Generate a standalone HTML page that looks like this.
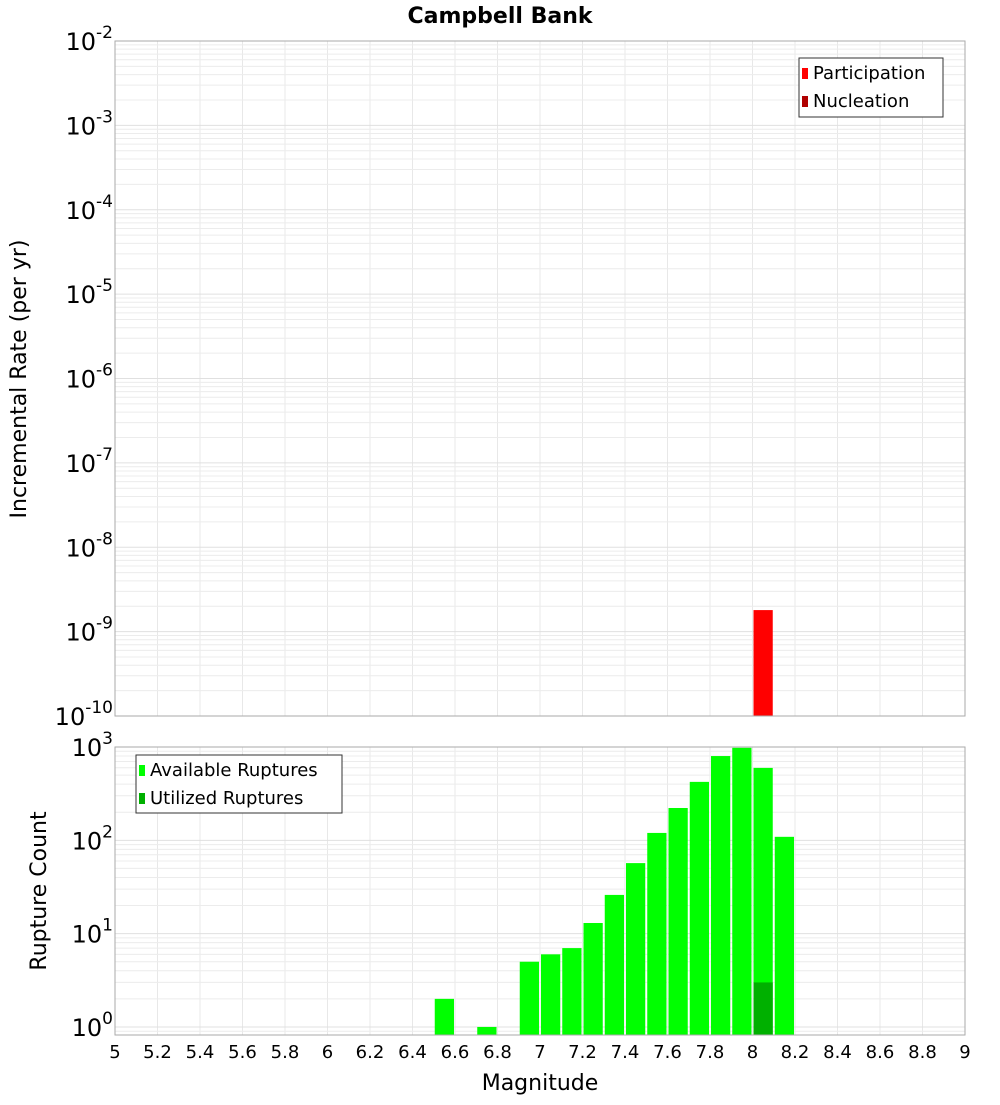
<!DOCTYPE html>
<html><head><meta charset="utf-8"><style>
body{margin:0;background:#fff;width:1000px;height:1100px;overflow:hidden}
text{font-family:"DejaVu Sans","Liberation Sans",sans-serif}
</style></head><body>
<svg id="chart" width="1000" height="1100" xmlns="http://www.w3.org/2000/svg"></svg>
<script>
const xTicks=[5,5.2,5.4,5.6,5.8,6,6.2,6.4,6.6,6.8,7,7.2,7.4,7.6,7.8,8,8.2,8.4,8.6,8.8,9];
const xTickLabels=["5","5.2","5.4","5.6","5.8","6","6.2","6.4","6.6","6.8","7","7.2","7.4","7.6","7.8","8","8.2","8.4","8.6","8.8","9"];
const topExps=[-2,-3,-4,-5,-6,-7,-8,-9,-10];
const botExps=[3,2,1,0];
const partMags=[8.0];
const partRates=[1.8e-9];
const nuclMags=[];
const nuclRates=[];
const availMags=[6.5,6.7,6.9,7.0,7.1,7.2,7.3,7.4,7.5,7.6,7.7,7.8,7.9,8.0,8.1];
const availCounts=[2,1,5,6,7,13,26,57,120,222,423,800,980,597,109];
const utilMags=[8.0];
const utilCounts=[3];

const NS="http://www.w3.org/2000/svg";
const svg=document.getElementById('chart');
function el(tag,attrs,parent){const e=document.createElementNS(NS,tag);for(const k in attrs)e.setAttribute(k,attrs[k]);(parent||svg).appendChild(e);return e;}
const X0=115,X1=965;
const xs=m=>X0+(m-5)/(9-5)*(X1-X0);
const T0=41,T1=716,tMin=-10,tMax=-2;
const yt=v=>T1-(Math.log10(v)-tMin)/(tMax-tMin)*(T1-T0);
const B0=747,B1=1035,bMin=Math.log10(0.82),bMax=3;
const yb=v=>B1-(Math.log10(v)-bMin)/(bMax-bMin)*(B1-B0);

function grid(y0,y1,ysc,lo,hi,name){
  const g=el('g',{});
  
  
  for(const t of xTicks){if(t>5&&t<9){const l=el('line',{x1:xs(t),x2:xs(t),y1:y0,y2:y1,stroke:'#e8e8e8','stroke-width':1},g);}}
  for(let e=Math.floor(lo);e<=hi;e++){for(let k=1;k<10;k++){const v=k*Math.pow(10,e);const y=ysc(v);if(y>y0&&y<y1){el('line',{x1:X0,x2:X1,y1:y,y2:y,stroke:k==1?'#e0e0e0':'#ececec','stroke-width':1},g);}}}
}
grid(T0,T1,yt,tMin,tMax,'top-grid');
grid(B0,B1,yb,-1,3,'bottom-grid');

// top bars
for(let i=0;i<partMags.length;i++){
  const r=el('rect',{x:xs(partMags[i])+1,y:yt(partRates[i]),width:xs(partMags[i]+0.1)-xs(partMags[i])-2,height:T1-yt(partRates[i]),fill:'#ff0000'});
  
  
}
for(let i=0;i<nuclMags.length;i++){
  const r=el('rect',{x:xs(nuclMags[i])+1,y:yt(nuclRates[i]),width:xs(nuclMags[i]+0.1)-xs(nuclMags[i])-2,height:T1-yt(nuclRates[i]),fill:'#b00000'});
  
  
}
// bottom bars
for(let i=0;i<availMags.length;i++){
  const r=el('rect',{x:xs(availMags[i])+1,y:yb(availCounts[i]),width:xs(availMags[i]+0.1)-xs(availMags[i])-2,height:B1-yb(availCounts[i]),fill:'#00ff00'});
  
  
}
for(let i=0;i<utilMags.length;i++){
  const r=el('rect',{x:xs(utilMags[i])+1,y:yb(utilCounts[i]),width:xs(utilMags[i]+0.1)-xs(utilMags[i])-2,height:B1-yb(utilCounts[i]),fill:'#00b000'});
  
  
}
// frames
const f1=el('rect',{x:X0,y:T0,width:X1-X0,height:T1-T0,fill:'none',stroke:'#aaa','stroke-width':1});


const f2=el('rect',{x:X0,y:B0,width:X1-X0,height:B1-B0,fill:'none',stroke:'#aaa','stroke-width':1});



function ylabel(exp,y,name){
  const t=el('text',{x:113,y:y+9,'text-anchor':'end','font-size':24,fill:'#000'});
  
  
  const a=el('tspan',{},t);a.textContent='10';
  const b=el('tspan',{dy:-12,'font-size':17},t);b.textContent=String(exp);
}
for(const e of topExps) ylabel(e,yt(Math.pow(10,e)),'top-y-tick-label');
for(const e of botExps) ylabel(e,yb(Math.pow(10,e)),'bottom-y-tick-label');

for(let i=0;i<xTicks.length;i++){
  const t=el('text',{x:xs(xTicks[i]),y:1058,'text-anchor':'middle','font-size':18,fill:'#000'});
  t.textContent=xTickLabels[i];
  
  
}
function txt(s,attrs,name){const t=el('text',attrs);t.textContent=s;return t;}
txt('Campbell Bank',{x:500,y:23,'text-anchor':'middle','font-size':22,'font-weight':'bold'},'chart-title');
txt('Magnitude',{x:540,y:1090,'text-anchor':'middle','font-size':22},'x-axis-title');
txt('Incremental Rate (per yr)',{x:0,y:0,'text-anchor':'middle','font-size':22,transform:'translate(26,379) rotate(-90)'},'top-y-axis-title');
txt('Rupture Count',{x:0,y:0,'text-anchor':'middle','font-size':22,transform:'translate(46,891) rotate(-90)'},'bottom-y-axis-title');

function legend(x,y,w,h,items,name){
  const g=el('g',{});
  
  
  el('rect',{x:x,y:y,width:w,height:h,fill:'#fff',stroke:'#333','stroke-width':1},g);
  items.forEach((it,i)=>{
    el('rect',{x:x+3,y:y+10+i*28,width:6,height:11,fill:it[1]},g);
    const t=el('text',{x:x+14,y:y+21+i*28,'font-size':18},g);t.textContent=it[0];
    
    
  });
}
legend(799,58,144,59,[['Participation','#ff0000'],['Nucleation','#b00000']],'top-legend');
legend(136,755,206,58,[['Available Ruptures','#00ff00'],['Utilized Ruptures','#00b000']],'bottom-legend');
</script>
</body></html>
